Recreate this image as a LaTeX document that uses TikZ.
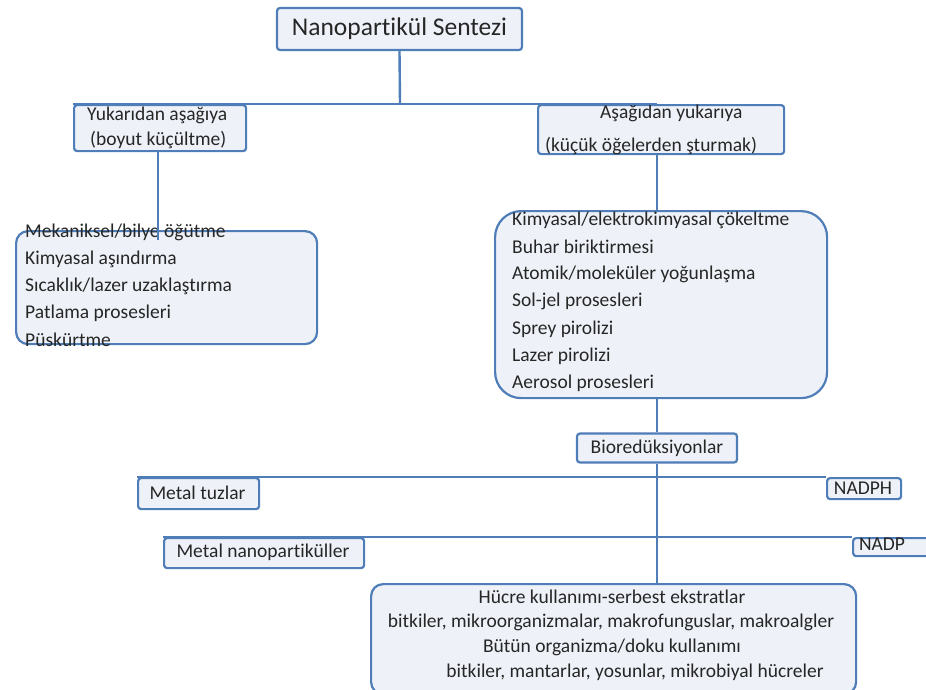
\documentclass[tikz,border=0pt]{standalone}
\usepackage{fontspec}
\setmainfont{Carlito}[Ligatures=NoCommon]
\definecolor{edge}{HTML}{4F7DB8}
\definecolor{boxfill}{HTML}{EEF2F8}
\tikzset{
  box/.style={draw=edge, fill=boxfill, line width=2.2pt, rounded corners=3pt, inner sep=0pt},
  listbox/.style={box, rounded corners=12pt},
  conn/.style={draw=edge, line width=2.4pt},
  txt/.style={inner sep=0pt, font=\fontsize{19.5}{22}\selectfont, text=black!85},
}
\begin{document}
\begin{tikzpicture}[x=1pt,y=-1pt]
\useasboundingbox (0,0) rectangle (926,689);
% boxes
\node[box, minimum width=245pt, minimum height=42pt, font=\fontsize{25.5}{28}\selectfont, text=black!85] (title) at (399.5,29) {Nanopartikül Sentezi};
\node[box, minimum width=172pt, minimum height=46pt, anchor=north west] (left) at (73,104) {};
\node[txt, anchor=west] (l1) at (87,115) {Yukarıdan aşağıya};
\node[txt, anchor=west] (l2) at (90,140) {(boyut küçültme)};
\node[box, minimum width=246pt, minimum height=49pt, anchor=north west] (right) at (537,104) {};
\node[txt, anchor=west] (r1) at (600,113) {Aşağıdan yukarıya};
\node[txt, anchor=west] (r2) at (545,146) {(küçük öğelerden şturmak)};
% left list
\node[listbox, minimum width=301pt, minimum height=113pt, anchor=north west] (llist) at (15,230) {};
\foreach \t [count=\i] in {Mekaniksel/bilye öğütme, Kimyasal aşındırma, Sıcaklık/lazer uzaklaştırma, Patlama prosesleri, Püskürtme}
  \node[txt, anchor=west] (ll\i) at (25,232+27*\i-27) {\t};
% right list
\node[box, rounded corners=26pt, minimum width=332pt, minimum height=187pt, anchor=north west] (rlist) at (494,210) {};
\foreach \t [count=\i] in {Kimyasal/elektrokimyasal çökeltme, Buhar biriktirmesi, Atomik/moleküler yoğunlaşma, Sol-jel prosesleri, Sprey pirolizi, Lazer pirolizi, Aerosol prosesleri}
  \node[txt, anchor=west] (rl\i) at (512,220+27.2*\i-27.2) {\t};
% bioreduction
\node[box, minimum width=160pt, minimum height=29pt, txt, draw=edge, fill=boxfill, inner sep=0pt] (bio) at (657,448) {Bioredüksiyonlar};
\node[box, minimum width=121pt, minimum height=31pt, anchor=north west] (mt) at (137,477) {};
\node[txt] (mtt) at (197.5,493) {Metal tuzlar};
\node[box, minimum width=74pt, minimum height=21pt, anchor=north west] (nadph) at (826,477) {};
\node[txt] (nadpht) at (863,488) {NADPH};
\node[box, minimum width=200pt, minimum height=30pt, anchor=north west] (mn) at (163,537) {};
\node[txt] (mnt) at (263,552) {Metal nanopartiküller};
\node[box, minimum width=80pt, minimum height=18pt, anchor=north west] (nadp) at (852,537) {};
\node[txt] (nadpt) at (882,544) {NADP};
% hucre
\node[box, rounded corners=12pt, minimum width=485pt, minimum height=110pt, anchor=north west] (huc) at (370,583) {};
\node[txt] (h1) at (612,597) {Hücre kullanımı-serbest ekstratlar};
\node[txt] (h2) at (611,622) {bitkiler, mikroorganizmalar, makrofunguslar, makroalgler};
\node[txt] (h3) at (612,647) {Bütün organizma/doku kullanımı};
\node[txt] (h4) at (635,672) {bitkiler, mantarlar, yosunlar, mikrobiyal hücreler};
% connectors
\coordinate (j1) at (400,104);
\coordinate (j2) at (657,104);
\draw[conn] (title.south) -- (j1);
\draw[conn] (left.north west) -- (j2);
\draw[conn] (left.south -| 158,0) -- (158,240);
\draw[conn] (657,153) -- (657,210);
\draw[conn] (rlist.south -| bio) -- (bio.north);
\draw[conn] (bio.south) -- (bio.south |- huc.north);
\draw[conn] (mt.north west) -- (nadph.north west);
\draw[conn] (mn.north west) -- (nadp.north west);
\end{tikzpicture}
\end{document}
